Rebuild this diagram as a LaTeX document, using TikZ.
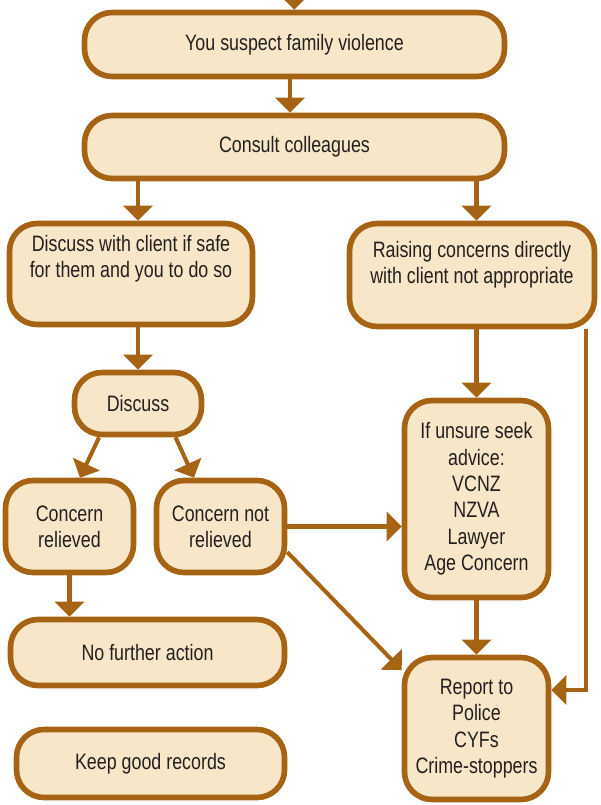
\documentclass[tikz,border=0pt]{standalone}
\usepackage{fontspec}
\setmainfont{Liberation Sans}[FakeStretch=0.8]
\usetikzlibrary{arrows.meta}
\definecolor{brd}{RGB}{166,99,19}
\definecolor{bg}{RGB}{248,230,200}
\definecolor{txt}{RGB}{35,31,32}
\tikzset{
  box/.style={draw=brd,fill=bg,line width=3.2pt,rounded corners=0.55cm,align=center,inner sep=0pt,text=txt,font=\fontsize{12.7}{15}\selectfont},
  arr/.style={draw=brd,line width=2.3pt,-{Triangle[length=0.3cm,width=0.58cm]}}
}
\begin{document}
\begin{tikzpicture}[x=0.02cm,y=-0.02cm]
            \useasboundingbox (0,0) rectangle (600,805);
            \node[box,minimum width=8.4cm,minimum height=1.28cm] (suspect) at (294.5,44.5) {You suspect family violence};
            \node[box,minimum width=8.4cm,minimum height=1.26cm] (consult) at (294.5,147) {Consult colleagues};
            \node[box,minimum width=4.86cm,minimum height=2.02cm,text depth=0.7cm] (withclient) at (131,274) {Discuss with client if safe\\for them and you to do so};
            \node[box,minimum width=4.9cm,minimum height=2.06cm,text depth=0.5cm] (notappr) at (472,275) {Raising concerns directly\\with client not appropriate};
            \node[box,minimum width=2.54cm,minimum height=1.24cm] (discuss) at (138,403.5) {Discuss};
            \node[box,minimum width=2.56cm,minimum height=1.84cm] (relieved) at (69.5,526.5) {Concern\\relieved};
            \node[box,minimum width=2.56cm,minimum height=1.84cm] (notrelieved) at (220.5,526.5) {Concern not\\relieved};
            \node[box,minimum width=2.88cm,minimum height=3.94cm] (advice) at (476.5,499) {If unsure seek\\advice:\\VCNZ\\NZVA\\Lawyer\\Age Concern};
            \node[box,minimum width=5.48cm,minimum height=1.32cm] (noaction) at (147.5,652.5) {No further action};
            \node[box,minimum width=2.88cm,minimum height=2.84cm] (report) at (476.5,728.5) {Report to\\Police\\CYFs\\Crime-stoppers};
            \node[box,minimum width=5.36cm,minimum height=1.36cm] (records) at (150.5,763.5) {Keep good records};
            \coordinate (start) at (294,-30);
            \draw[arr] (start) -- (suspect);
            \draw[arr] ([xshift=-0.09cm]suspect.south) -- ([xshift=-0.09cm]consult.north);
            \draw[arr] (consult.south -| discuss) -- (withclient.north -| discuss);
            \draw[arr] (consult.south -| advice) -- (notappr.north -| advice);
            \draw[arr] (withclient.south -| discuss) -- (discuss);
            \draw[arr] (notappr.south -| advice) -- (advice);
            \draw[arr] (discuss.221) -- ([xshift=0.21cm]relieved.north);
            \draw[arr] (discuss.318) -- ([xshift=-0.53cm]notrelieved.north);
            \draw[arr] (relieved) -- (noaction.north -| relieved);
            \draw[arr] (notrelieved.east) -- (notrelieved.east -| advice.west);
            \draw[arr] (notrelieved.339) -- (report.142);
            \draw[arr] (advice) -- (report);
            \draw[arr] ([xshift=-0.23cm]notappr.south east) |- ([yshift=0.77cm]report.east);
          \end{tikzpicture}
\end{document}
